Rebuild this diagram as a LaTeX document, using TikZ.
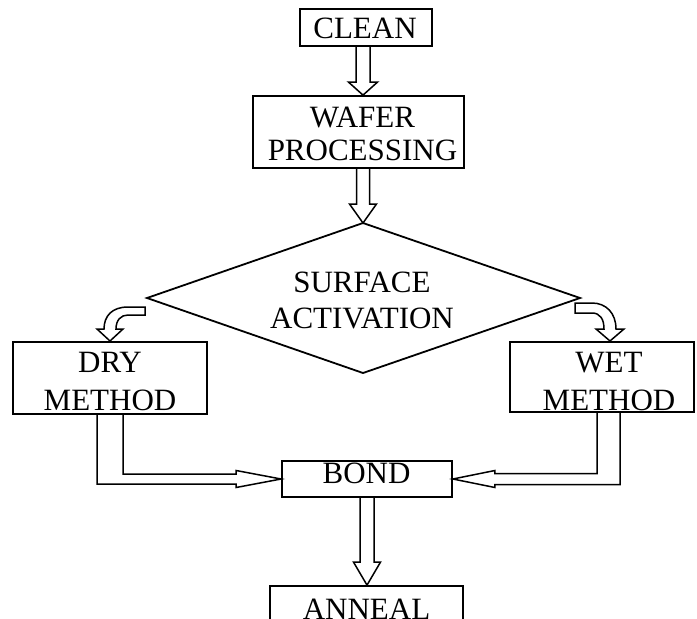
\documentclass[tikz,border=0pt]{standalone}
\usepackage{fontspec}
\setmainfont{Liberation Serif}
\usetikzlibrary{calc}
\tikzset{
  boxnode/.style={draw, line width=1.8pt, inner sep=0pt, rectangle},
  txtnode/.style={anchor=base, inner sep=0pt, font=\fontsize{31}{36}\selectfont},
  arrowline/.style={draw, line width=1.5pt, line join=miter},
  diamondline/.style={draw, line width=1.8pt, line join=miter},
}
\newcommand{\twoline}[3]{\fontsize{31}{#3}\selectfont\begin{tabular}[t]{@{}c@{}}#1\\#2\end{tabular}}
% hollow vertical arrow: from, tip, shaft half width, head half width, head length
\newcommand{\vhollow}[5]{%
  \draw[arrowline] let \p1=(#1), \p2=(#2) in
    (\x2-#3,\y1) -- (\x2-#3,\y2+#5) -- (\x2-#4,\y2+#5) -- (\x2,\y2)
    -- (\x2+#4,\y2+#5) -- (\x2+#3,\y2+#5) -- (\x2+#3,\y1);}
\begin{document}
\begin{tikzpicture}[x=1pt,y=-1pt]
\useasboundingbox (0,0) rectangle (697,619);

% boxes
\node[boxnode, minimum width=132pt, minimum height=37pt] (clean) at (366,27.5) {};
\node[boxnode, minimum width=211pt, minimum height=72pt] (wafer) at (358.5,132) {};
\node[boxnode, minimum width=194pt, minimum height=72pt] (dry) at (110,378) {};
\node[boxnode, minimum width=184pt, minimum height=70pt] (wet) at (602,377) {};
\node[boxnode, minimum width=170pt, minimum height=36pt] (bond) at (367,479) {};
\begin{scope}
  \clip (0,0) rectangle (697,619);
  \node[boxnode, minimum width=193pt, minimum height=70pt] (anneal) at (366.5,621) {};
\end{scope}

% diamond
\coordinate (dtop) at (363,223);
\coordinate (dleft) at (147,298);
\coordinate (dright) at (580,298);
\coordinate (dbot) at (363,373);
\draw[diamondline] (dtop) -- (dright) -- (dbot) -- (dleft) -- cycle;

% texts
\node[txtnode] (cleantxt) at (365,38) {CLEAN};
\node[txtnode] (wafertxt) at (362.5,127) {\twoline{WAFER}{PROCESSING}{33pt}};
\node[txtnode] (surftxt) at (362,292) {\twoline{SURFACE}{ACTIVATION}{36pt}};
\node[txtnode] (drytxt) at (110,372) {\twoline{DRY}{METHOD}{38pt}};
\node[txtnode] (wettxt) at (609,372) {\twoline{WET}{METHOD}{38pt}};
\node[txtnode] (bondtxt) at (366.5,483) {BOND};
\node[txtnode] (annealtxt) at (366.5,619) {ANNEAL};

% straight hollow arrows
\vhollow{clean.south -| dtop}{wafer.north -| dtop}{7pt}{14.5pt}{13pt}
\vhollow{wafer.south -| dtop}{dtop}{6.5pt}{13.5pt}{19pt}
\vhollow{bond.south}{bond.south |- anneal.north}{7pt}{13.5pt}{23pt}

% curved hollow arrows from the diamond
\draw[arrowline, shift={(dleft)}] (-2,9) -- (-19,9) .. controls (-35,9) and (-43,18) .. (-43,31)
  -- (-50,31) -- (-37,43) -- (-24,31) -- (-31,31) .. controls (-31,22) and (-26,17) .. (-19,17)
  -- (-2,17) -- cycle;
\draw[arrowline, shift={(dright)}] (-5,5) -- (12,5) .. controls (26,5) and (36,15) .. (36,31)
  -- (44,31) -- (30,43) -- (16,31) -- (24,31) .. controls (24,21) and (20,15) .. (12,15)
  -- (-5,15) -- cycle;

% L-shaped hollow arrows into BOND
\draw[arrowline] let \p1=(dry.south), \p2=(bond.west) in
  (\x1-13pt,\y1) -- (\x1-13pt,\y2-5pt) -- (\x2-45pt,\y2-5pt) -- (\x2-45pt,\y2-8.5pt)
  -- (\x2,\y2) -- (\x2-45pt,\y2+8.5pt) -- (\x2-45pt,\y2+5pt) -- (\x1+13pt,\y2+5pt) -- (\x1+13pt,\y1);
\draw[arrowline] let \p1=($(wet.south)+(6.5,0)$), \p2=(bond.east) in
  (\x1+11.5pt,\y1) -- (\x1+11.5pt,\y2-5.5pt) -- (\x2+42pt,\y2-5.5pt) -- (\x2+42pt,\y2-8.5pt)
  -- (\x2,\y2) -- (\x2+42pt,\y2+8.5pt) -- (\x2+42pt,\y2+5.5pt) -- (\x1-11.5pt,\y2+5.5pt) -- (\x1-11.5pt,\y1);
\end{tikzpicture}
\end{document}
